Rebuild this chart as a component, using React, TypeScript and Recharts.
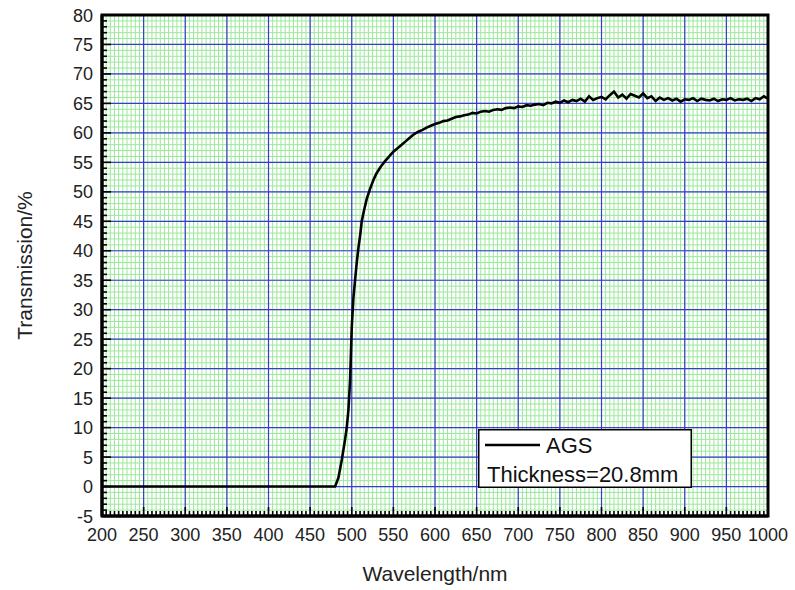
import { LineChart, Line, XAxis, YAxis, CartesianGrid, ReferenceArea, Legend } from 'recharts';

// absorption edge region (nm / %)
const edgeWavelength = [200, 250, 300, 350, 400, 450, 480, 484, 488, 492, 494, 496, 498, 500, 502, 504, 506, 508, 510, 512, 515, 518, 522, 526, 530, 535, 540, 545, 550, 555, 560];
const edgeTransmission = [0, 0, 0, 0, 0, 0, 0, 1.5, 4.5, 8, 10, 13, 18, 27, 32, 35, 38, 40.5, 42.5, 45, 47, 48.8, 50.5, 52, 53.2, 54.3, 55.2, 56, 56.8, 57.4, 58];

// plateau region
const plateauWavelength = [
  565, 570, 575, 580, 585, 590, 595, 600, 605, 610,
  615, 620, 625, 630, 635, 640, 645, 650, 655, 660,
  665, 670, 675, 680, 685, 690, 695, 700, 705, 710,
  715, 720, 725, 730, 735, 740, 745, 750, 755, 760,
  765, 770, 775, 780, 785, 790, 795, 800, 805, 810,
  815, 820, 825, 830, 835, 840, 845, 850, 855, 860,
  865, 870, 875, 880, 885, 890, 895, 900, 905, 910,
  915, 920, 925, 930, 935, 940, 945, 950, 955, 960,
  965, 970, 975, 980, 985, 990, 995, 1000,
];
const plateauTransmission = [
  58.6, 59.2, 59.8, 60.2, 60.5, 60.9, 61.2, 61.5, 61.7, 62.0,
  62.1, 62.4, 62.7, 62.8, 63.0, 63.1, 63.4, 63.3, 63.6, 63.7,
  63.6, 63.9, 64.0, 63.9, 64.2, 64.3, 64.2, 64.5, 64.4, 64.7,
  64.6, 64.8, 64.9, 64.7, 65.1, 65.0, 65.3, 65.1, 65.5, 65.2,
  65.6, 65.4, 65.8, 65.3, 66.2, 65.6, 65.9, 66.1, 65.7, 66.4,
  67.0, 66.0, 66.5, 65.8, 66.6, 66.3, 66.0, 66.7, 65.9, 66.2,
  65.4, 66.0, 65.6, 65.9, 65.5, 65.8, 65.3, 65.7, 65.6, 65.9,
  65.4, 65.8, 65.6, 65.5, 65.8, 65.4, 65.7, 65.6, 65.9, 65.5,
  65.7, 65.6, 65.8, 65.4, 65.9, 65.7, 66.2, 65.8,
];

const xMajorTicks = [200, 250, 300, 350, 400, 450, 500, 550, 600, 650, 700, 750, 800, 850, 900, 950, 1000];
const yMajorTicks = [-5, 0, 5, 10, 15, 20, 25, 30, 35, 40, 45, 50, 55, 60, 65, 70, 75, 80];
const xMinorTicks = Array.from({ length: 161 }, (_, i) => 200 + i * 5);
const yMinorTicks = Array.from({ length: 86 }, (_, i) => -5 + i);

const seriesName = 'AGS';
const noteText = 'Thickness=20.8mm';

const data = [
  ...edgeWavelength.map((w, i) => ({ w, t: edgeTransmission[i] })),
  ...plateauWavelength.map((w, i) => ({ w, t: plateauTransmission[i] })),
];

const FONT = '"Liberation Sans", Arial, sans-serif';

const XTick = ({ x, y, payload }: any) => {
  const major = payload.value % 50 === 0;
  return (
    <g>
      <line x1={x} x2={x} y1={y} y2={y - (major ? 9 : 5)} stroke="#000" strokeWidth={1.6} />
      {major && (
        <text x={x} y={y + 25} textAnchor="middle" fontFamily={FONT} fontSize={18} fill="#222">
          {payload.value}
        </text>
      )}
    </g>
  );
};

const YTick = ({ x, y, payload }: any) => {
  const major = payload.value % 5 === 0;
  return (
    <g>
      <line x1={x} x2={x + (major ? 9 : 5)} y1={y} y2={y} stroke="#000" strokeWidth={1.6} />
      {major && (
        <text x={x - 9} y={y + 6.5} textAnchor="end" fontFamily={FONT} fontSize={18} fill="#222">
          {payload.value}
        </text>
      )}
    </g>
  );
};

const LegendBox = ({ payload }: any) => {
  const entry = payload && payload[0];
  return (
    <svg width={214} height={59} style={{ display: 'block' }}>
      <rect x={0.75} y={0.75} width={212.5} height={57.5} fill="#fff" stroke="#000" strokeWidth={1.5} />
      <line x1={7} x2={62} y1={16} y2={16} stroke={entry ? entry.color : '#000'} strokeWidth={2.6} />
      <text x={68} y={24} fontFamily={FONT} fontSize={22} fill="#111">
        {entry ? entry.value : seriesName}
      </text>
      <text x={9} y={53} fontFamily={FONT} fontSize={22} fill="#111">
        {noteText}
      </text>
    </svg>
  );
};

const App = () => {
  return (
    <div style={{ position: 'absolute', left: 0, top: 0 }}>
      <LineChart width={795} height={590} data={data} margin={{ top: 15, right: 27, bottom: 0, left: 0 }}>
        <CartesianGrid
          stroke="#9be89b"
          strokeWidth={1}
          fill="#ffffff"
          verticalValues={xMinorTicks}
          horizontalValues={yMinorTicks}
        />
        <CartesianGrid stroke="#3a3ad0" strokeWidth={1.2} verticalValues={xMajorTicks} horizontalValues={yMajorTicks} />
        <XAxis
          dataKey="w"
          type="number"
          domain={[200, 1000]}
          ticks={xMinorTicks}
          interval={0}
          tickSize={0}
          tickMargin={0}
          height={74}
          tick={(p: any) => <XTick {...p} />}
          axisLine={{ stroke: '#000', strokeWidth: 3 }}
          label={{
            value: 'Wavelength/nm',
            position: 'insideBottom',
            offset: 9,
            style: { fontFamily: FONT, fontSize: 21, fill: '#222' },
          }}
        />
        <YAxis
          type="number"
          domain={[-5, 80]}
          ticks={yMinorTicks}
          interval={0}
          tickSize={0}
          tickMargin={0}
          width={102}
          tick={(p: any) => <YTick {...p} />}
          axisLine={{ stroke: '#000', strokeWidth: 3 }}
          label={{
            value: 'Transmission/%',
            angle: -90,
            position: 'insideLeft',
            offset: 25,
            style: { fontFamily: FONT, fontSize: 21, fill: '#222', textAnchor: 'middle' },
          }}
        />
        <ReferenceArea x1={200} x2={1000} y1={-5} y2={80} fill="none" stroke="#000" strokeWidth={3} ifOverflow="visible" />
        <Line
          type="linear"
          dataKey="t"
          name={seriesName}
          stroke="#000"
          strokeWidth={2.6}
          dot={false}
          isAnimationActive={false}
        />
        <Legend
          layout="horizontal"
          verticalAlign="middle"
          align="center"
          content={(p: any) => <LegendBox {...p} />}
          wrapperStyle={{ position: 'absolute', left: 478, top: 429, width: 214, height: 59 }}
        />
      </LineChart>
    </div>
  );
};

export default App;
